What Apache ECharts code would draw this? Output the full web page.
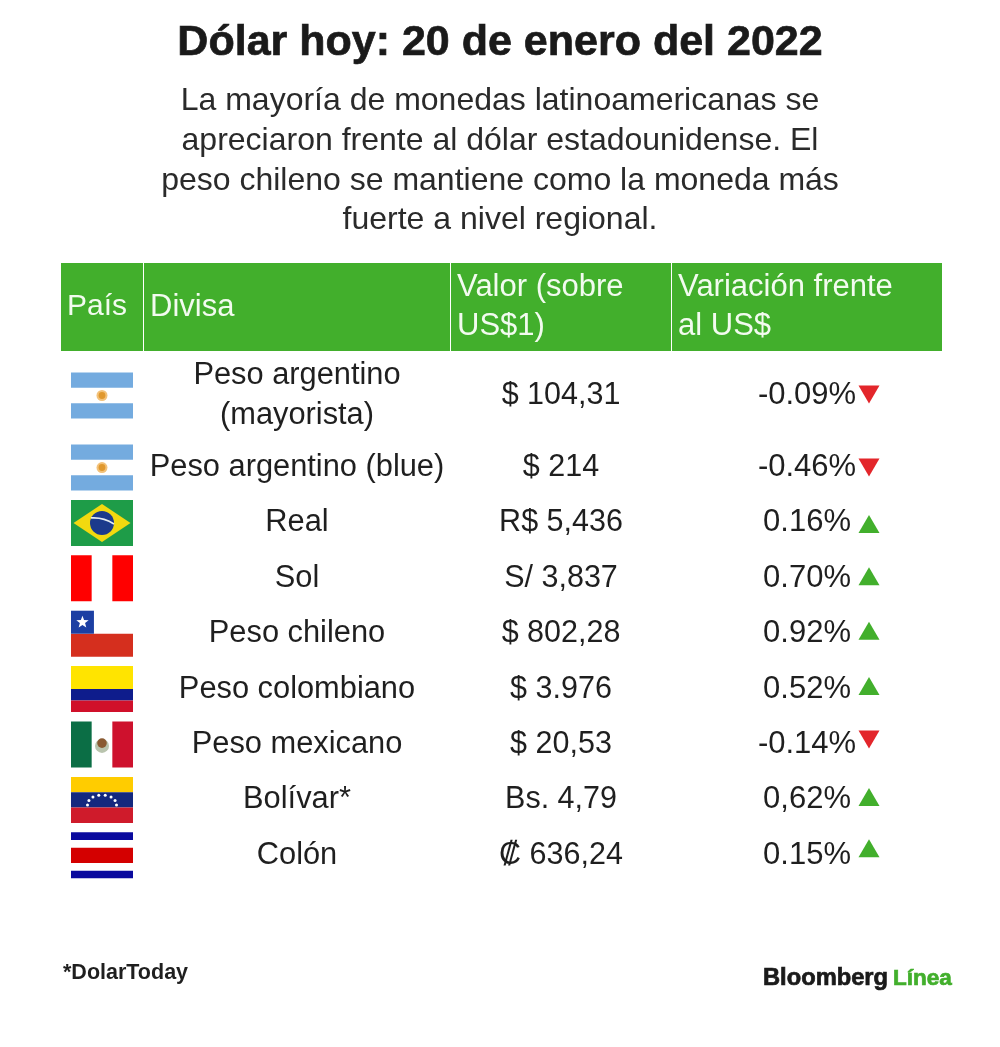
<!DOCTYPE html>
<html><head><meta charset="utf-8">
<style>html,body{margin:0;padding:0;background:#fff}#c{width:1000px;height:1047px}</style>
<script src="https://cdn.jsdelivr.net/npm/echarts@6/dist/echarts.min.js"></script>
</head><body><div id="c"></div>
<script>
// ---------- data ----------
const titleText = 'Dólar hoy: 20 de enero del 2022';
const subtitleLines = ['La mayoría de monedas latinoamericanas se','apreciaron frente al dólar estadounidense. El','peso chileno se mantiene como la moneda más','fuerte a nivel regional.'];
const headers = ['País','Divisa','Valor (sobre\nUS$1)','Variación frente\nal US$'];
const flags = ['AR','AR','BR','PE','CL','CO','MX','VE','CR'];
const currencies = ['Peso argentino\n(mayorista)','Peso argentino (blue)','Real','Sol','Peso chileno','Peso colombiano','Peso mexicano','Bolívar*','Colón'];
const values = ['$ 104,31','$ 214','R$ 5,436','S/ 3,837','$ 802,28','$ 3.976','$ 20,53','Bs. 4,79','₡ 636,24'];
const variationLabels = ['-0.09%','-0.46%','0.16%','0.70%','0.92%','0.52%','-0.14%','0,62%','0.15%'];
const variations = [-0.09,-0.46,0.16,0.70,0.92,0.52,-0.14,0.62,0.15];
const footnote = '*DolarToday';

// ---------- layout ----------
const columnEdges = [61,143,450,671,942];
const flagX = 102, currencyX = 297, valueX = 561, variationX = 807, arrowX = 869;
const rowPos = [0,1.3,2.3,3.3,4.3,5.3,6.3,7.3,8.3];      // first row is taller
const arrowNudge = [-1,0,1,-2,-3,-3,-5,-3,-7];           // px
const FONT = '"Liberation Sans", Arial, sans-serif';
const GREEN = '#42AF2C', RED = '#E3262B', INK = '#1f1f1f';

function textSeries(x, labels, size, dy){
  return {type:'scatter', xAxisIndex:0, yAxisIndex:0, silent:true, symbolSize:1,
    itemStyle:{color:'transparent',opacity:1}, z:5,
    data: labels.map((t,i)=>[x,rowPos[i],t]),
    label:{show:true, position:'inside', offset:[0,dy], formatter:p=>p.value[2], color:INK,
      fontFamily:FONT, fontSize:size, lineHeight:39.5, align:'center', verticalAlign:'middle'}};
}

function star(cx,cy,r,fill){
  const pts=[];
  for(let i=0;i<10;i++){const a=-Math.PI/2+i*Math.PI/5,q=i%2?r*0.42:r;pts.push([cx+q*Math.cos(a),cy+q*Math.sin(a)]);}
  return {type:'polygon',shape:{points:pts},style:{fill}};
}
function flagShapes(code,x,y,w,h){
  const R=(a,b,c,d,fill)=>({type:'rect',shape:{x:x+a*w,y:y+b*h,width:c*w,height:d*h},style:{fill}});
  const C=(a,b,r,fill)=>({type:'circle',shape:{cx:x+a*w,cy:y+b*h,r},style:{fill}});
  switch(code){
    case 'AR': return [R(0,0,1,1/3,'#74ABDF'),R(0,2/3,1,1/3,'#74ABDF'),C(.5,.5,5.5,'#F3C27A'),C(.5,.5,3.4,'#E0982E')];
    case 'BR':
      return [R(0,0,1,1,'#1E9C48'),
        {type:'polygon',shape:{points:[[x+2.5,y+h/2],[x+w/2,y+4],[x+w-2.5,y+h/2],[x+w/2,y+h-4]]},style:{fill:'#F2D90F'}},
        C(.5,.5,12,'#1B3A8C'),
        {type:'bezierCurve',shape:{x1:x+20,y1:y+18,cpx1:x+32,cpy1:y+17,x2:x+43,y2:y+24},style:{stroke:'#E4ECF0',lineWidth:1.7,fill:null}}];
    case 'PE': return [R(0,0,1/3,1,'#FF0000'),R(2/3,0,1/3,1,'#FF0000')];
    case 'CL': return [R(0,.5,1,.5,'#D52F1E'),R(0,0,.37,.5,'#1C3FA3'),star(x+.185*w,y+.25*h,6.5,'#fff')];
    case 'CO': return [R(0,0,1,.5,'#FFE400'),R(0,.5,1,.25,'#0E1C8C'),R(0,.75,1,.25,'#D0102A')];
    case 'MX': return [R(0,0,1/3,1,'#0B6E45'),R(2/3,0,1/3,1,'#CE112D'),C(.5,.53,7,'#B9C4AE'),C(.5,.47,4.8,'#8A5A32')];
    case 'VE': { const dots=[];
      for(let i=0;i<8;i++){const a=Math.PI*(1+i/7);dots.push({type:'circle',shape:{cx:x+w/2+14.5*Math.cos(a),cy:y+h/2+5+10*Math.sin(a),r:1.5},style:{fill:'#fff'}});}
      return [R(0,0,1,1/3,'#FFCC00'),R(0,1/3,1,1/3,'#14287E'),R(0,2/3,1,1/3,'#CF1B2B')].concat(dots);}
    case 'CR': return [R(0,0,1,1/6,'#0A0A9E'),R(0,1/3,1,1/3,'#D40000'),R(0,5/6,1,1/6,'#0A0A9E')];
  }
  return [];
}

const chart = echarts.init(document.getElementById('c'),null,{renderer:'canvas'});
const title = (text,o)=>Object.assign({text,padding:0,textStyle:Object.assign({fontFamily:FONT,color:INK,fontWeight:'normal'},o.ts)},o.pos);
const heavy = c=>({textBorderColor:c,textBorderWidth:0.7});

chart.setOption({
  animation:false,
  backgroundColor:'#fff',
  title:[
    title(titleText,{pos:{left:'center',top:22},ts:Object.assign({fontSize:43,fontWeight:'bold',color:'#1a1a1a'},heavy('#1a1a1a'))}),
    ...subtitleLines.map((l,i)=>title(l,{pos:{left:'center',top:85.5+i*39.7},ts:{fontSize:32,color:'#2a2a2a'}})),
    title(footnote,{pos:{left:63,top:962},ts:{fontSize:21.5,fontWeight:'bold'}}),
    title('Bloomberg',{pos:{left:763,top:966},ts:Object.assign({fontSize:23.7,fontWeight:'bold',color:'#1a1a1a'},heavy('#1a1a1a'))}),
    title('Línea',{pos:{left:893,top:967},ts:Object.assign({fontSize:22.5,fontWeight:'bold',color:GREEN},heavy(GREEN))})
  ],
  grid:[
    {left:0,width:1000,top:395.5,height:459.8,show:false},
    {left:0,width:1000,top:263,height:88,show:false}
  ],
  xAxis:[
    {type:'value',gridIndex:0,min:0,max:1000,show:false},
    {type:'value',gridIndex:1,min:0,max:1000,show:false}
  ],
  yAxis:[
    {type:'value',gridIndex:0,min:0,max:8.3,inverse:true,show:false},
    {type:'value',gridIndex:1,min:0,max:1,inverse:true,show:false}
  ],
  series:[
    {type:'custom',xAxisIndex:1,yAxisIndex:1,silent:true,clip:false,z:1,
     data:headers.map((h,i)=>[columnEdges[i],columnEdges[i+1],h]),
     encode:{x:[0,1]},
     renderItem:(p,api)=>{
       const a=api.coord([api.value(0),0]),b=api.coord([api.value(1),1]);
       const i=p.dataIndex;
       return {type:'group',children:[
         {type:'rect',shape:{x:a[0]+(i?1:0),y:a[1],width:b[0]-a[0]-(i?1:0),height:b[1]-a[1]},style:{fill:GREEN}},
         {type:'text',style:{x:a[0]+(i?7:6),y:(a[1]+b[1])/2,text:headers[i],align:'left',verticalAlign:'middle',
           fill:'#F2FBEF',fontFamily:FONT,fontSize:i===0?30:31,lineHeight:39.5}}
       ]};
     }},
    {type:'custom',xAxisIndex:0,yAxisIndex:0,silent:true,clip:false,z:2,
     data:flags.map((f,i)=>[flagX,rowPos[i]]),
     renderItem:(p,api)=>{
       const c=api.coord([api.value(0),api.value(1)]);
       const w=62,h=46;
       return {type:'group',children:flagShapes(flags[p.dataIndex],c[0]-w/2,c[1]-h/2,w,h)};
     }},
    textSeries(currencyX,currencies,30.8,0),
    textSeries(valueX,values,30.5,0),
    textSeries(variationX,variationLabels,31,0),
    {type:'scatter',xAxisIndex:0,yAxisIndex:0,silent:true,z:4,symbol:'triangle',symbolSize:[21,18],
     itemStyle:{opacity:1},
     data:variations.map((v,i)=>({value:[arrowX,rowPos[i]],symbolRotate:v<0?180:0,
        symbolOffset:[0,arrowNudge[i]],itemStyle:{color:v<0?RED:GREEN,opacity:1}}))}
  ]
});
</script></body></html>
